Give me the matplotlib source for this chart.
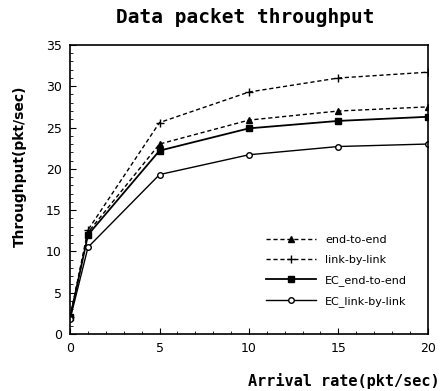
import numpy as np
import matplotlib
matplotlib.use('Agg')
import matplotlib.pyplot as plt
from matplotlib.ticker import MultipleLocator

# arrival rate (pkt/sec)
rates = [0, 1, 5, 10, 15, 20]

# throughput series
end_to_end = [2.0, 12.3, 23.0, 25.9, 27.0, 27.5]
link_by_link = [2.0, 12.6, 25.6, 29.3, 31.0, 31.7]
ec_end_to_end = [2.0, 12.0, 22.2, 24.9, 25.8, 26.3]
ec_link_by_link = [1.8, 10.5, 19.3, 21.7, 22.7, 23.0]

fig = plt.figure(figsize=(4.41, 3.91), dpi=100)
ax = fig.add_axes([0.159, 0.146, 0.811, 0.739])

ax.plot(rates, end_to_end, color='black', lw=1.0, ls=(0, (3, 2)),
        marker='^', ms=5, label='end-to-end')
ax.plot(rates, link_by_link, color='black', lw=1.0, ls=(0, (3, 2)),
        marker='+', ms=6, mew=1.0, label='link-by-link')
ax.plot(rates, ec_end_to_end, color='black', lw=1.3,
        marker='s', ms=5, label='EC_end-to-end')
ax.plot(rates, ec_link_by_link, color='black', lw=1.0,
        marker='o', ms=4, mfc='white', mew=1.0, label='EC_link-by-link')

ax.set_xlim(0, 20)
ax.set_ylim(0, 35)
ax.set_xticks([0, 5, 10, 15, 20])
ax.set_yticks([0, 5, 10, 15, 20, 25, 30, 35])
ax.xaxis.set_minor_locator(MultipleLocator(1))
ax.yaxis.set_minor_locator(MultipleLocator(1))
ax.tick_params(which='major', direction='in', length=4, labelsize=9, pad=6)
ax.tick_params(which='minor', direction='in', length=2)
for s in ax.spines.values():
    s.set_linewidth(1.2)

fig.text(0.555, 0.955, 'Data packet throughput', ha='center', va='center',
         fontsize=14, fontweight='bold', family='DejaVu Sans Mono')
fig.text(0.998, 0.025, 'Arrival rate(pkt/sec)', ha='right', va='center',
         fontsize=11, fontweight='bold', family='DejaVu Sans Mono')
fig.text(0.045, 0.575, 'Throughput(pkt/sec)', ha='center', va='center',
         rotation=90, fontsize=10, fontweight='bold')

ax.legend(loc='lower right', bbox_to_anchor=(0.97, 0.06), frameon=False,
          fontsize=8, handlelength=4.5, labelspacing=0.9)

fig.savefig('out.png', dpi=100)
